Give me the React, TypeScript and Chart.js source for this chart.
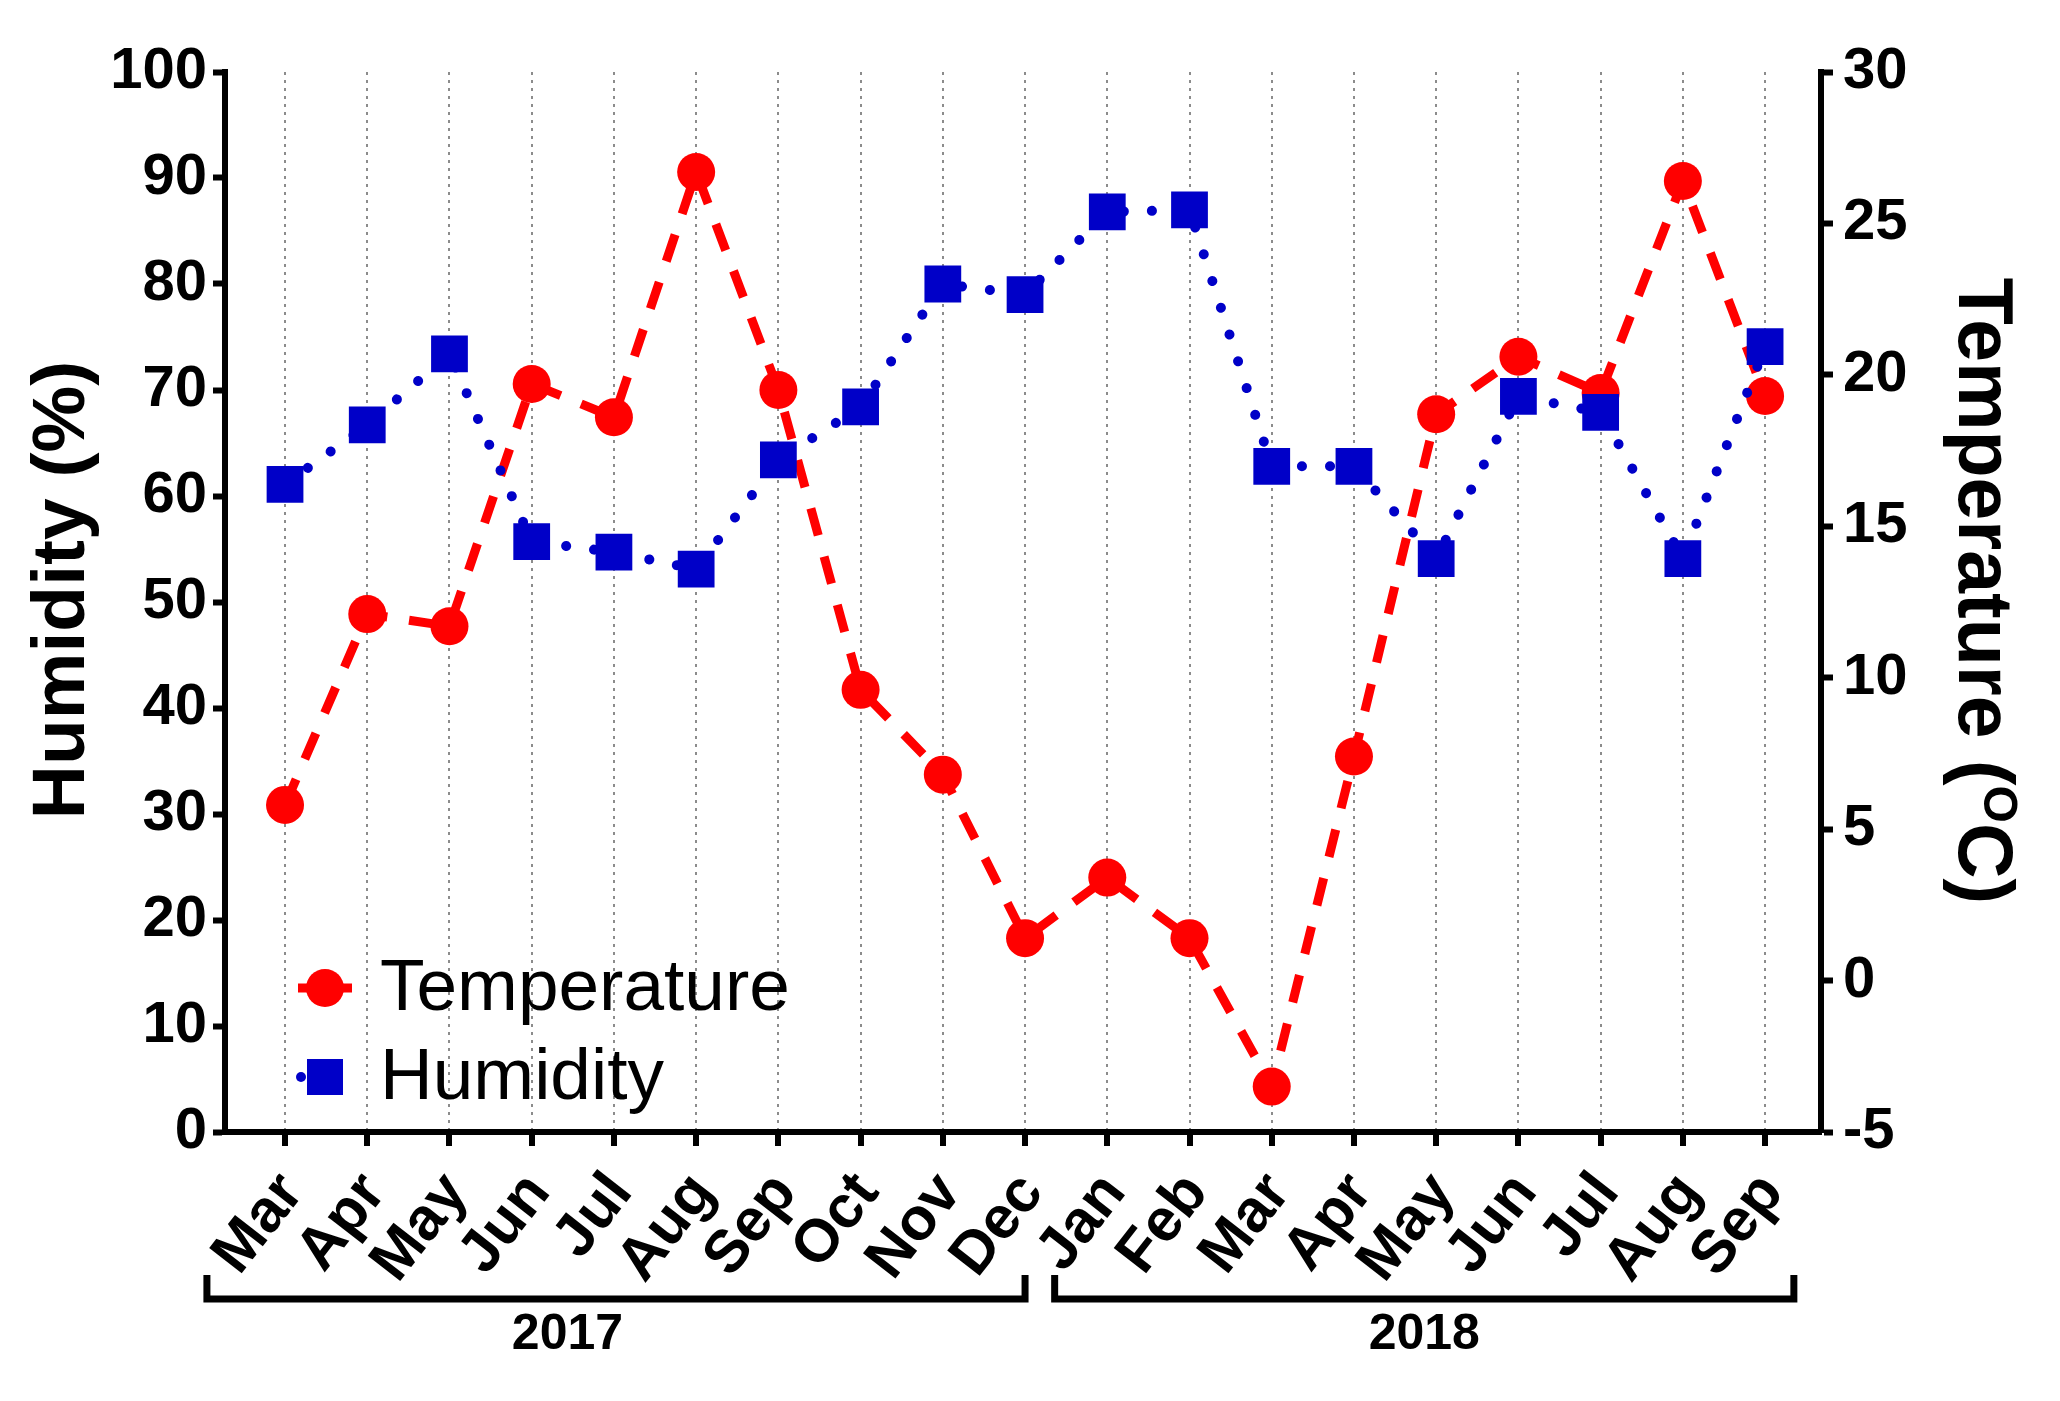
import { useEffect, useRef } from "react";
import { Chart, registerables } from "chart.js";

Chart.register(...registerables);

// months along the x axis (Mar 2017 .. Sep 2018)
const months = [
  "Mar", "Apr", "May", "Jun", "Jul", "Aug", "Sep", "Oct", "Nov", "Dec",
  "Jan", "Feb", "Mar", "Apr", "May", "Jun", "Jul", "Aug", "Sep",
];
// temperature in °C (right axis)
const temperature = [
  5.8, 12.1, 11.7, 19.7, 18.6, 26.7, 19.5, 9.6, 6.8, 1.4,
  3.4, 1.4, -3.5, 7.4, 18.7, 20.6, 19.4, 26.4, 19.3,
];
// humidity in % (left axis)
const humidity = [
  61.1, 66.7, 73.4, 55.7, 54.7, 53.1, 63.4, 68.4, 80.0, 79.0,
  86.8, 87.0, 62.8, 62.8, 54.1, 69.4, 67.9, 54.1, 74.1,
];
// year groups under the month labels (first and last month index)
const years = ["2017", "2018"];
const yearRanges = [[0, 9], [10, 18]];

const humidityMin = 0;
const humidityMax = 100;
const humidityStep = 10;
const tempMin = -5;
const tempMax = 30;
const tempStep = 5;

const FONT = "'Liberation Sans', Arial, Helvetica, sans-serif";
const RED = "#ff0000";
const BLUE = "#0000c8";

// axis titles, year brackets and the legend inside the plot
const decorations = {
  id: "decorations",
  afterDraw(chart: any) {
    const { ctx, scales } = chart;
    const x = scales.x;
    ctx.save();
    ctx.fillStyle = "#000";

    // left title
    ctx.save();
    ctx.font = `bold 75px ${FONT}`;
    ctx.textAlign = "center";
    ctx.textBaseline = "alphabetic";
    ctx.translate(84, 590);
    ctx.rotate(-Math.PI / 2);
    ctx.fillText("Humidity (%)", 0, 0);
    ctx.restore();

    // right title with superscript O
    ctx.save();
    const mainFont = `bold 77px ${FONT}`;
    const supFont = `bold 48px ${FONT}`;
    ctx.textBaseline = "alphabetic";
    ctx.textAlign = "left";
    ctx.font = mainFont;
    const partA = "Temperature (";
    const partC = "C)";
    const wA = ctx.measureText(partA).width;
    const wC = ctx.measureText(partC).width;
    ctx.font = supFont;
    const wO = ctx.measureText("O").width;
    const total = wA + wO + wC;
    ctx.translate(1959, 591);
    ctx.rotate(Math.PI / 2);
    let pos = -total / 2;
    ctx.font = mainFont;
    ctx.fillText(partA, pos, 0);
    pos += wA;
    ctx.font = supFont;
    ctx.fillText("O", pos, -25);
    pos += wO;
    ctx.font = mainFont;
    ctx.fillText(partC, pos, 0);
    ctx.restore();

    // year brackets
    const pads = [[0.95, 0], [0.64, 0.35]];
    const labelShift = [-0.59, 0];
    ctx.strokeStyle = "#000";
    ctx.lineWidth = 7;
    ctx.lineJoin = "miter";
    ctx.lineCap = "butt";
    ctx.font = `bold 50px ${FONT}`;
    ctx.textAlign = "center";
    ctx.textBaseline = "middle";
    yearRanges.forEach(([s, e], i) => {
      const a = s - pads[i][0];
      const b = e + pads[i][1];
      const x1 = x.getPixelForValue(a);
      const x2 = x.getPixelForValue(b);
      ctx.beginPath();
      ctx.moveTo(x1, 1275);
      ctx.lineTo(x1, 1299);
      ctx.lineTo(x2, 1299);
      ctx.lineTo(x2, 1275);
      ctx.stroke();
      ctx.fillText(years[i], x.getPixelForValue((a + b) / 2 + labelShift[i]), 1335);
    });

    // legend
    const markerX = 325;
    const textX = 380;
    const rowY = [988, 1077];
    chart.data.datasets.forEach((ds: any, i: number) => {
      const y = rowY[i];
      ctx.fillStyle = ds.borderColor;
      ctx.strokeStyle = ds.borderColor;
      if (ds.pointStyle === "circle") {
        ctx.lineWidth = 9;
        ctx.beginPath();
        ctx.moveTo(markerX - 27, y);
        ctx.lineTo(markerX + 27, y);
        ctx.stroke();
        ctx.beginPath();
        ctx.arc(markerX, y, 19, 0, Math.PI * 2);
        ctx.fill();
      } else {
        ctx.beginPath();
        ctx.arc(markerX - 24, y, 5, 0, Math.PI * 2);
        ctx.fill();
        ctx.fillRect(markerX - 18, y - 18, 36, 36);
      }
      ctx.fillStyle = "#000";
      ctx.font = `73px ${FONT}`;
      ctx.textAlign = "left";
      ctx.textBaseline = "middle";
      ctx.fillText(ds.label, textX, y + 2);
    });

    ctx.restore();
  },
};

export default function App() {
  const canvasRef = useRef<HTMLCanvasElement>(null);
  const chartRef = useRef<Chart | null>(null);

  useEffect(() => {
    if (!canvasRef.current) return;
    if (chartRef.current) chartRef.current.destroy();

    const tickFont = { family: FONT, size: 58, weight: "bold" as const };

    chartRef.current = new Chart(canvasRef.current, {
      type: "line",
      data: {
        datasets: [
          {
            label: "Temperature",
            data: temperature.map((v, i) => ({ x: i, y: v })),
            yAxisID: "yT",
            order: 1,
            borderColor: RED,
            backgroundColor: RED,
            borderWidth: 9,
            borderDash: [28, 22],
            borderCapStyle: "butt",
            pointStyle: "circle",
            pointRadius: 19,
            pointBorderWidth: 0,
            pointBackgroundColor: RED,
            tension: 0,
          },
          {
            label: "Humidity",
            data: humidity.map((v, i) => ({ x: i, y: v })),
            yAxisID: "yH",
            order: 0,
            borderColor: BLUE,
            backgroundColor: BLUE,
            borderWidth: 10,
            borderDash: [0.1, 28],
            borderCapStyle: "round",
            pointStyle: "rect",
            pointRadius: 26,
            pointBorderWidth: 0,
            pointBackgroundColor: BLUE,
            tension: 0,
          },
        ],
      },
      options: {
        animation: false,
        responsive: true,
        maintainAspectRatio: false,
        devicePixelRatio: 1,
        layout: { padding: { top: 72, left: 0, right: 0, bottom: 0 } },
        plugins: {
          legend: { display: false },
          tooltip: { enabled: false },
        },
        scales: {
          x: {
            type: "linear",
            min: -0.73,
            max: 18.68,
            afterBuildTicks: (scale: any) => {
              scale.ticks = months.map((_, i) => ({ value: i }));
            },
            afterFit: (scale: any) => {
              scale.height = 269;
            },
            ticks: {
              callback: (v: any) => months[v as number] ?? "",
              autoSkip: false,
              minRotation: 52,
              maxRotation: 52,
              padding: 14,
              labelOffset: 7,
              color: "#000",
              font: { family: FONT, size: 60, weight: "bold" as const },
            },
            grid: {
              color: "#8c8c8c",
              lineWidth: 2,
              tickColor: "#000",
              tickWidth: 6,
              tickLength: 14,
            },
            border: { color: "#000", width: 6, dash: [3, 5] },
          },
          yH: {
            type: "linear",
            position: "left",
            min: humidityMin,
            max: humidityMax,
            afterFit: (scale: any) => {
              scale.width = 225;
            },
            ticks: { stepSize: humidityStep, padding: 6, color: "#000", font: tickFont },
            grid: {
              drawOnChartArea: false,
              color: "#000",
              tickColor: "#000",
              tickWidth: 6,
              tickLength: 12,
            },
            border: { color: "#000", width: 6 },
          },
          yT: {
            type: "linear",
            position: "right",
            min: tempMin,
            max: tempMax,
            afterFit: (scale: any) => {
              scale.width = 239;
            },
            ticks: { stepSize: tempStep, padding: 10, color: "#000", font: tickFont },
            grid: {
              drawOnChartArea: false,
              color: "#000",
              tickColor: "#000",
              tickWidth: 6,
              tickLength: 12,
            },
            border: { color: "#000", width: 6 },
          },
        },
      },
      plugins: [decorations],
    });

    return () => {
      if (chartRef.current) {
        chartRef.current.destroy();
        chartRef.current = null;
      }
    };
  }, []);

  return (
    <div
      style={{
        position: "fixed",
        left: 0,
        top: 0,
        width: 2060,
        height: 1401,
        background: "#fff",
      }}
    >
      <canvas ref={canvasRef} />
    </div>
  );
}
